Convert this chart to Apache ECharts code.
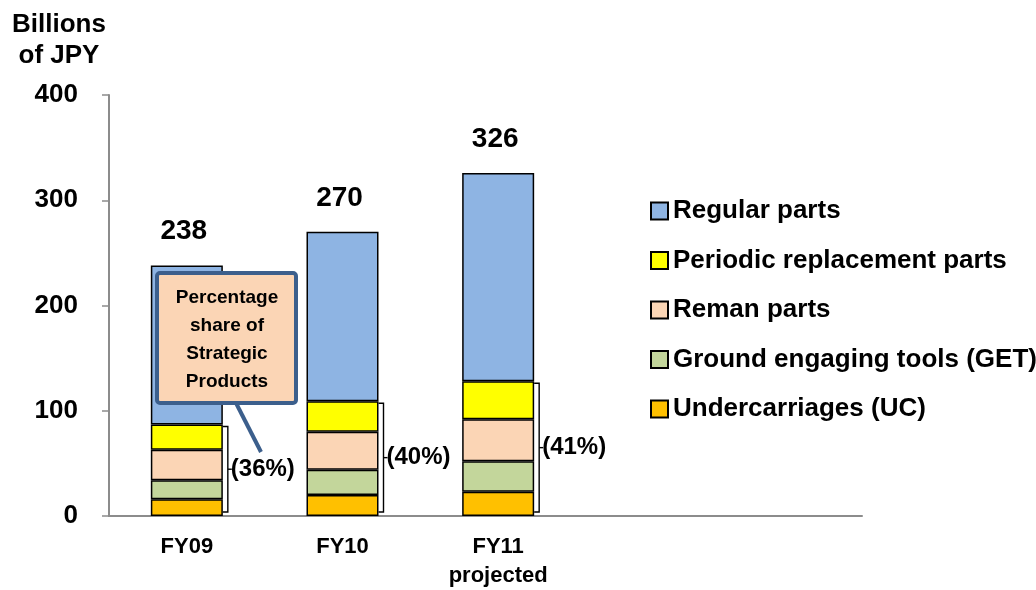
<!DOCTYPE html>
<html>
<head>
<meta charset="utf-8">
<script src="https://cdn.jsdelivr.net/npm/echarts@6/dist/echarts.min.js"></script>
<style>
  html, body { margin: 0; padding: 0; background: #fff; }
  #chart { width: 1036px; height: 590px; }
</style>
</head>
<body>
<div id="chart"></div>
<script>
// Parts sales by category, billions of JPY
const categories = ['FY09', 'FY10', 'FY11\nprojected'];
const totals = [238, 270, 326];
const undercarriages = [16, 20, 23];
const groundEngagingTools = [18, 24, 29];
const remanParts = [29, 36, 40];
const periodicParts = [24, 29, 36];
const strategicShare = ['36%', '40%', '41%'];
const yTicks = [0, 100, 200, 300, 400];

// Strategic products subtotal and the remaining regular parts
const strategicTotals = categories.map((_, i) =>
  undercarriages[i] + groundEngagingTools[i] + remanParts[i] + periodicParts[i]);
const regularParts = totals.map((t, i) => t - strategicTotals[i]);

const FONT = "'Liberation Sans', Arial, sans-serif";
const BAR_W = 72;
const AXIS_GREY = '#8c8c8c';
const CALLOUT_BLUE = '#3C5F8C';

const chart = echarts.init(document.getElementById('chart'), null, { renderer: 'canvas' });

const barStyle = (color) => ({ color: color, borderColor: '#000', borderWidth: 1.5 });

const option = {
  backgroundColor: '#fff',
  animation: false,
  textStyle: { fontFamily: FONT },
  grid: [
    { left: 109, top: 95, width: 467, height: 421 },
    { left: 109, top: 95, width: 753, height: 421 }
  ],
  xAxis: [
    {
      type: 'category', gridIndex: 0, data: categories,
      axisLine: { show: false }, axisTick: { show: false },
      axisLabel: {
        color: '#000', fontFamily: FONT, fontWeight: 'bold', fontSize: 22,
        lineHeight: 29, margin: 16
      }
    },
    {
      type: 'value', gridIndex: 1, min: 0, max: 1,
      axisLine: { show: true, lineStyle: { color: AXIS_GREY, width: 2 } },
      axisTick: { show: false }, axisLabel: { show: false }, splitLine: { show: false }
    }
  ],
  yAxis: [
    {
      type: 'value', gridIndex: 0, min: yTicks[0], max: yTicks[yTicks.length - 1], interval: 100,
      axisLine: { show: true, lineStyle: { color: AXIS_GREY, width: 2 } },
      axisTick: { show: true, inside: false, length: 7, lineStyle: { color: AXIS_GREY, width: 1.5 } },
      axisLabel: {
        color: '#000', fontFamily: FONT, fontWeight: 'bold', fontSize: 26, margin: 31
      },
      splitLine: { show: false }
    },
    {
      type: 'value', gridIndex: 1, min: 0, max: 1, show: false
    }
  ],
  legend: {
    orient: 'vertical', left: 645, top: 193,
    itemWidth: 17, itemHeight: 17, itemGap: 23.5,
    icon: 'rect',
    data: ['Regular parts', 'Periodic replacement parts', 'Reman parts',
           'Ground engaging tools (GET)', 'Undercarriages (UC)'],
    textStyle: {
      color: '#000', fontFamily: FONT, fontWeight: 'bold', fontSize: 26, lineHeight: 26,
      padding: [0, 0, 0, 0]
    }
  },
  series: [
    {
      name: 'Undercarriages (UC)', type: 'bar', stack: 'total', barWidth: BAR_W,
      data: undercarriages, itemStyle: barStyle('#FFC000')
    },
    {
      name: 'Ground engaging tools (GET)', type: 'bar', stack: 'total', barWidth: BAR_W,
      data: groundEngagingTools, itemStyle: barStyle('#C3D69B')
    },
    {
      name: 'Reman parts', type: 'bar', stack: 'total', barWidth: BAR_W,
      data: remanParts, itemStyle: barStyle('#FBD5B5')
    },
    {
      name: 'Periodic replacement parts', type: 'bar', stack: 'total', barWidth: BAR_W,
      data: periodicParts, itemStyle: barStyle('#FFFF00')
    },
    {
      name: 'Regular parts', type: 'bar', stack: 'total', barWidth: BAR_W,
      data: regularParts, itemStyle: barStyle('#8EB4E3'),
      label: {
        show: true, position: 'top', distance: 20, offset: [-3, 0],
        color: '#000', fontFamily: FONT, fontWeight: 'bold', fontSize: 28,
        formatter: (p) => String(totals[p.dataIndex])
      }
    },
    {
      // Bracket spanning the strategic products with their share of the total
      name: 'Strategic share', type: 'custom', silent: true,
      xAxisIndex: 0, yAxisIndex: 0,
      data: categories.map((_, i) => [i, strategicTotals[i]]),
      renderItem: (params, api) => {
        const idx = api.value(0);
        const base = api.coord([idx, 0]);
        const top = api.coord([idx, api.value(1)])[1] + 2;
        const bottom = base[1] - 4;
        const vx = base[0] + BAR_W / 2 + 5;
        const mid = (top + bottom) / 2;
        return {
          type: 'group',
          children: [
            {
              type: 'polyline',
              shape: { points: [[vx - 5, top], [vx, top], [vx, bottom], [vx - 5, bottom]] },
              style: { stroke: '#000', lineWidth: 1.4, fill: null }
            },
            {
              type: 'line',
              shape: { x1: vx, y1: mid, x2: vx + 4, y2: mid },
              style: { stroke: '#000', lineWidth: 1.4 }
            },
            {
              type: 'text',
              style: {
                x: vx + 3, y: mid, text: '(' + strategicShare[params.dataIndex] + ')',
                textAlign: 'left', textVerticalAlign: 'middle',
                fill: '#000', font: 'bold 24px ' + FONT
              }
            }
          ]
        };
      }
    }
  ],
  graphic: [
    {
      type: 'text', z: 10,
      style: {
        x: 59, y: 40, text: 'Billions\nof JPY', textAlign: 'center', textVerticalAlign: 'middle',
        fill: '#000', font: 'bold 26px ' + FONT, lineHeight: 31
      }
    },
    // Callout pointing at the strategic products share
    {
      type: 'line', z: 100, zlevel: 1,
      shape: { x1: 236, y1: 403, x2: 261, y2: 452 },
      style: { stroke: CALLOUT_BLUE, lineWidth: 4 }
    },
    {
      type: 'rect', z: 101, zlevel: 1,
      shape: { x: 157, y: 273, width: 139, height: 130, r: 3 },
      style: { fill: '#FBD5B5', stroke: CALLOUT_BLUE, lineWidth: 4 }
    },
    {
      type: 'text', z: 102, zlevel: 1,
      style: {
        x: 227, y: 340, text: 'Percentage\nshare of\nStrategic\nProducts',
        textAlign: 'center', textVerticalAlign: 'middle',
        fill: '#000', font: 'bold 19px ' + FONT, lineHeight: 28
      }
    }
  ]
};

chart.setOption(option);
</script>
</body>
</html>
